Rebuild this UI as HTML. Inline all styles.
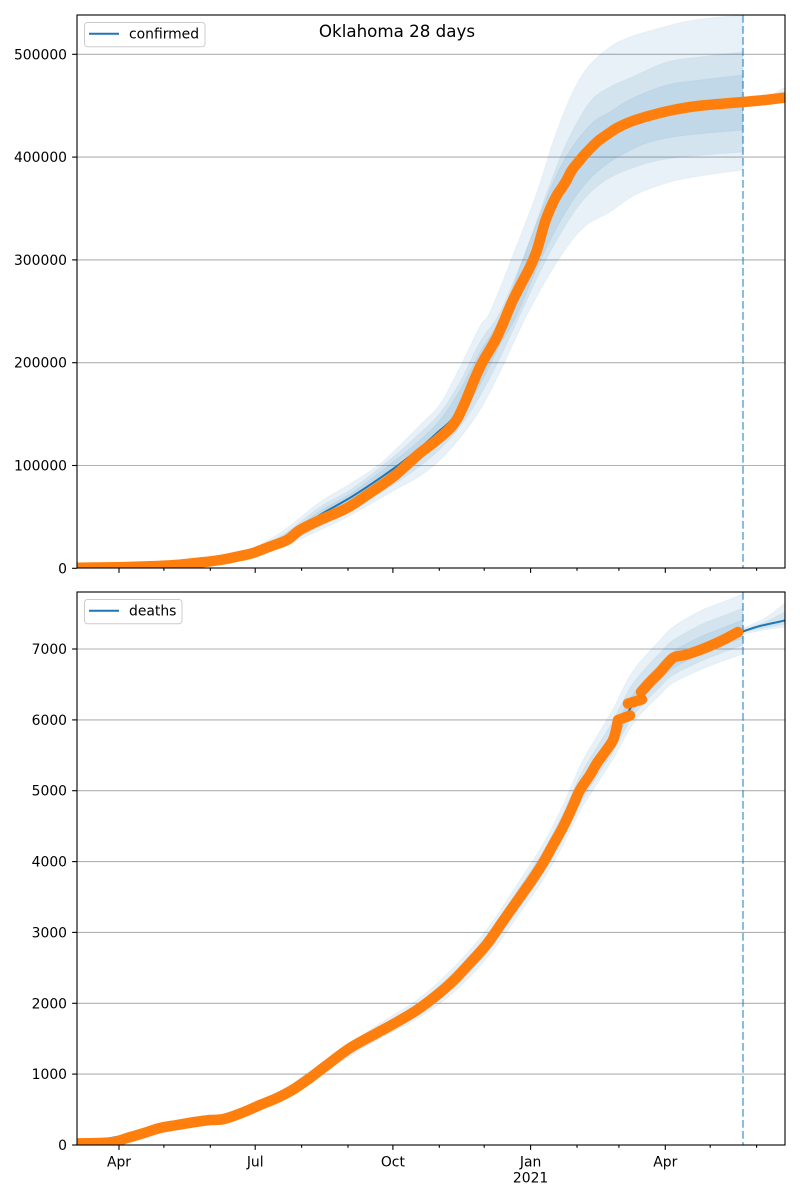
<!DOCTYPE html>
<html><head><meta charset="utf-8"><style>
html,body{margin:0;padding:0;background:#fff;}
svg{display:block;}
text{font-family:"DejaVu Sans","Liberation Sans",sans-serif;fill:#000;}
</style></head><body>
<svg id="fig" width="800" height="1200" viewBox="0 0 800 1200" xmlns="http://www.w3.org/2000/svg">
<rect width="800" height="1200" fill="#fff"/>
<defs>
<clipPath id="ct"><rect x="77" y="15" width="708" height="553"/></clipPath>
<clipPath id="cb"><rect x="77" y="592" width="708" height="553"/></clipPath>
</defs>

<!-- ============ TOP AXES ============ -->
<g stroke="#b0b0b0" stroke-width="1.1">
<line x1="77" y1="465.5" x2="785" y2="465.5"/>
<line x1="77" y1="362.7" x2="785" y2="362.7"/>
<line x1="77" y1="259.9" x2="785" y2="259.9"/>
<line x1="77" y1="157.1" x2="785" y2="157.1"/>
<line x1="77" y1="54.3" x2="785" y2="54.3"/>
</g>
<g clip-path="url(#ct)">
<g fill="#1f77b4" fill-opacity="0.1" stroke="#1f77b4" stroke-opacity="0.05" stroke-width="1">
<polygon class="sm" points="77,567.8 150,566.5 200,563 230,557 256,547 287,528 320,502 353,482 377,466 393,452 420,425 440,404 460,367 480,326 490,312 513,255 537,192 553,142 570,98 587,68 610,47 630,37 660,28 683,22 710,18 743,15 743,170 700,176 670,182 635,195 610,212 583,228 557,262 527,315 500,372 480,410 460,438 440,460 420,476 393,491 353,514 320,530 287,545 256,555.5 230,561 200,565 150,567.5 77,568"/>
<polygon class="sm" points="77,567.8 200,564 230,558.5 256,550 287,532 320,507 353,488 393,457 420,433 440,413 460,382 480,342 500,312 527,248 547,192 567,142 590,102 610,87 630,78 667,62 700,57 743,52 743,152 673,158 635,167 603,182 577,208 547,258 520,315 500,358 480,396 460,427 440,449 420,466 393,485 353,509 320,526 287,543 256,554 230,560 200,564.5 77,568"/>
<polygon class="sm" points="77,567.8 200,564 230,559 256,551 287,535 320,511 353,492 393,462 420,440 440,420 460,390 480,352 503,312 537,222 563,162 590,125 610,112 633,98 667,85 700,80 743,75 743,130 673,137 635,148 597,172 570,205 543,255 517,315 500,345 480,385 460,418 440,442 420,460 393,480 353,505 320,522 287,541 256,553 230,560 200,564.3 77,568"/>
<polygon class="sm" points="743,101 765,98 785,87 785,100 765,101.5 743,103"/>
</g>
<polyline class="sm" fill="none" stroke="#1f77b4" stroke-width="2" points="77,567.5 200,564 230,559.5 256,552 287,538 320,515 353,496 393,469 420,448 437,433 453,418 467,392 480,367 497,337 513,300 530,265 545,222 557,196 565,182 572,168 580,157 590,148 600,140 617,128 630,122 645,117 673,110 707,105 743,102 765,100 785,97"/>
<line x1="743" y1="15" x2="743" y2="568" stroke="#1f77b4" stroke-opacity="0.5" stroke-width="2.1" stroke-dasharray="7.7 3.3"/>
<polyline class="sm" fill="none" stroke="#ff7f0e" stroke-width="10.5" stroke-linejoin="round" stroke-linecap="round" points="70,567.9 119,567.2 150,566.3 175,565 200,562.5 220,560 240,556 253,553 270,546.5 287,540 300,530 320,520 347,508 370,493 393,477 410,462 420,453 437,440 453,425 463,407 480,367 497,337 513,300 530,267 537,250 545,222 551,207 557,195 565,183 572,170 580,160 587,152 597,142 605,136 617,128 630,122 645,117 660,113 673,110 690,107 707,105 725,103.5 743,102 765,100 790,97"/>
</g>
<rect x="77" y="15" width="708" height="553" fill="none" stroke="#000" stroke-width="1.1"/>
<g stroke="#000" stroke-width="1.1">
<line x1="72.1" y1="568.3" x2="77" y2="568.3"/>
<line x1="72.1" y1="465.5" x2="77" y2="465.5"/>
<line x1="72.1" y1="362.7" x2="77" y2="362.7"/>
<line x1="72.1" y1="259.9" x2="77" y2="259.9"/>
<line x1="72.1" y1="157.1" x2="77" y2="157.1"/>
<line x1="72.1" y1="54.3" x2="77" y2="54.3"/>
<line x1="119" y1="568" x2="119" y2="572.9"/>
<line x1="255.2" y1="568" x2="255.2" y2="572.9"/>
<line x1="392.9" y1="568" x2="392.9" y2="572.9"/>
<line x1="530.6" y1="568" x2="530.6" y2="572.9"/>
<line x1="665.3" y1="568" x2="665.3" y2="572.9"/>
<line x1="163.9" y1="568" x2="163.9" y2="570.8"/>
<line x1="210.3" y1="568" x2="210.3" y2="570.8"/>
<line x1="301.6" y1="568" x2="301.6" y2="570.8"/>
<line x1="348" y1="568" x2="348" y2="570.8"/>
<line x1="439.3" y1="568" x2="439.3" y2="570.8"/>
<line x1="484.2" y1="568" x2="484.2" y2="570.8"/>
<line x1="577" y1="568" x2="577" y2="570.8"/>
<line x1="618.9" y1="568" x2="618.9" y2="570.8"/>
<line x1="710.2" y1="568" x2="710.2" y2="570.8"/>
<line x1="756.6" y1="568" x2="756.6" y2="570.8"/>
</g>
<g font-size="13.9" text-anchor="end">
<text x="67" y="573.3">0</text>
<text x="67" y="470.5">100000</text>
<text x="67" y="367.7">200000</text>
<text x="67" y="264.9">300000</text>
<text x="67" y="162.1">400000</text>
<text x="67" y="59.3">500000</text>
</g>
<rect x="84.5" y="22.5" width="120.5" height="24.3" rx="3" fill="#fff" fill-opacity="0.8" stroke="#cccccc" stroke-width="1"/>
<line x1="89" y1="33.8" x2="119" y2="33.8" stroke="#1f77b4" stroke-width="2"/>
<text x="129" y="38.6" font-size="13.9">confirmed</text>
<text x="397" y="37" font-size="16.7" text-anchor="middle">Oklahoma 28 days</text>

<!-- ============ BOTTOM AXES ============ -->
<g stroke="#b0b0b0" stroke-width="1.1">
<line x1="77" y1="1074.1" x2="785" y2="1074.1"/>
<line x1="77" y1="1003.3" x2="785" y2="1003.3"/>
<line x1="77" y1="932.4" x2="785" y2="932.4"/>
<line x1="77" y1="861.6" x2="785" y2="861.6"/>
<line x1="77" y1="790.7" x2="785" y2="790.7"/>
<line x1="77" y1="719.9" x2="785" y2="719.9"/>
<line x1="77" y1="649" x2="785" y2="649"/>
</g>
<g clip-path="url(#cb)">
<g fill="#1f77b4" fill-opacity="0.1" stroke="#1f77b4" stroke-opacity="0.05" stroke-width="1">
<polygon class="sm" points="77,1144 177,1123.5 260,1102 327,1059 377,1025 417,1000 453,968 487,929 520,880 543,844 563,805 580,766 597,736 613,709 628,679 640,662 660,640 673,627 700,611 720,603 743,594 743,654 720,662 700,670 673,683 660,695 640,715 628,732 613,759 597,784 580,811 563,845 543,880 520,913 487,958 453,993 417,1019 377,1040 327,1070 260,1108 177,1126.5 77,1145"/>
<polygon class="sm" points="77,1144.2 177,1124.1 260,1103.1 327,1061.3 377,1028 417,1003.8 453,973 487,934.7 520,886.5 543,851.2 563,813.4 580,775.9 597,747 613,720.8 628,691.5 640,674.5 660,652.9 673,640.3 700,625.1 720,617.1 743,608.1 743,645.3 720,653.6 700,661.6 673,675 660,687 640,707.4 628,724.4 613,751.8 597,776.8 580,803.8 563,838.2 543,873.5 520,906.9 487,952.7 453,988.4 417,1015.6 377,1037.3 327,1068.1 260,1106.9 177,1125.9 77,1144.8"/>
<polygon class="sm" points="77,1144.3 177,1124.5 260,1104.1 327,1063.2 377,1030.6 417,1007 453,977.1 487,939.5 520,891.9 543,857.3 563,820.4 580,784.2 597,756.3 613,730.7 628,702.1 640,685.1 660,663.8 673,651.5 700,636.9 720,628.9 743,619.9 743,637.9 720,646.6 700,654.6 673,668.3 660,680.3 640,701 628,718 613,745.7 597,770.7 580,797.7 563,832.4 543,868.1 520,901.8 487,948.2 453,984.6 417,1012.7 377,1035.1 327,1066.5 260,1105.9 177,1125.5 77,1144.6"/>
<polygon class="sm" points="743,628 765,618 785,603 785,627 765,630 743,634"/>
<polygon class="sm" points="743,630 765,622 785,612 785,624 765,628 743,632"/>
</g>
<polyline class="sm" fill="none" stroke="#1f77b4" stroke-width="2" points="77,1144.5 177,1125 260,1105 327,1065 377,1033 417,1010 453,981 487,944 520,897 543,863 563,827 580,792 597,765 613,740 620,726 628,712 640,695 660,674 673,662 700,648 720,640 743,631.5 760,626 785,620.5"/>
<line x1="743" y1="592" x2="743" y2="1145" stroke="#1f77b4" stroke-opacity="0.5" stroke-width="2.1" stroke-dasharray="7.7 3.3"/>
<g fill="none" stroke="#ff7f0e" stroke-width="10.5" stroke-linejoin="round" stroke-linecap="round">
<polyline class="sm" points="70,1143.5 110,1142.5 127,1138 144,1133 160,1128 177,1125 195,1122 210,1120 224,1119 244,1112 260,1105 277,1098 294,1089 310,1078 327,1065 350,1048 377,1033 397,1022 417,1010 437,995 453,981 470,963 487,944 503,921 520,897 532,880 543,863 553,845 563,827 572,808 580,790 590,775 597,763 605,752 613,740 617,726"/>
<polyline points="617,726 618,720 630,715.5"/>
<polyline points="628,703.5 642,699.5"/>
<polyline class="sm" points="641,692 650,682 660,672 673,658 685,655 700,650 712,645 725,639 738,632"/>
</g>
</g>
<rect x="77" y="592" width="708" height="553" fill="none" stroke="#000" stroke-width="1.1"/>
<g stroke="#000" stroke-width="1.1">
<line x1="72.1" y1="1145" x2="77" y2="1145"/>
<line x1="72.1" y1="1074.1" x2="77" y2="1074.1"/>
<line x1="72.1" y1="1003.3" x2="77" y2="1003.3"/>
<line x1="72.1" y1="932.4" x2="77" y2="932.4"/>
<line x1="72.1" y1="861.6" x2="77" y2="861.6"/>
<line x1="72.1" y1="790.7" x2="77" y2="790.7"/>
<line x1="72.1" y1="719.9" x2="77" y2="719.9"/>
<line x1="72.1" y1="649" x2="77" y2="649"/>
<line x1="119" y1="1145" x2="119" y2="1149.9"/>
<line x1="255.2" y1="1145" x2="255.2" y2="1149.9"/>
<line x1="392.9" y1="1145" x2="392.9" y2="1149.9"/>
<line x1="530.6" y1="1145" x2="530.6" y2="1149.9"/>
<line x1="665.3" y1="1145" x2="665.3" y2="1149.9"/>
<line x1="163.9" y1="1145" x2="163.9" y2="1147.8"/>
<line x1="210.3" y1="1145" x2="210.3" y2="1147.8"/>
<line x1="301.6" y1="1145" x2="301.6" y2="1147.8"/>
<line x1="348" y1="1145" x2="348" y2="1147.8"/>
<line x1="439.3" y1="1145" x2="439.3" y2="1147.8"/>
<line x1="484.2" y1="1145" x2="484.2" y2="1147.8"/>
<line x1="577" y1="1145" x2="577" y2="1147.8"/>
<line x1="618.9" y1="1145" x2="618.9" y2="1147.8"/>
<line x1="710.2" y1="1145" x2="710.2" y2="1147.8"/>
<line x1="756.6" y1="1145" x2="756.6" y2="1147.8"/>
</g>
<g font-size="13.9" text-anchor="end">
<text x="67" y="1150">0</text>
<text x="67" y="1079.1">1000</text>
<text x="67" y="1008.3">2000</text>
<text x="67" y="937.4">3000</text>
<text x="67" y="866.6">4000</text>
<text x="67" y="795.7">5000</text>
<text x="67" y="724.9">6000</text>
<text x="67" y="654">7000</text>
</g>
<g font-size="13.9" text-anchor="middle">
<text x="119" y="1166.5">Apr</text>
<text x="255.2" y="1166.5">Jul</text>
<text x="392.9" y="1166.5">Oct</text>
<text x="530.6" y="1166.5">Jan</text>
<text x="530.6" y="1182.5">2021</text>
<text x="665.3" y="1166.5">Apr</text>
</g>
<rect x="84.5" y="599.5" width="97.5" height="24.3" rx="3" fill="#fff" fill-opacity="0.8" stroke="#cccccc" stroke-width="1"/>
<line x1="89" y1="610.8" x2="119" y2="610.8" stroke="#1f77b4" stroke-width="2"/>
<text x="129" y="615.6" font-size="13.9">deaths</text>
</svg>
<script>
(function(){
  function cr(pts){
    var d='';
    for(var i=0;i<pts.length-1;i++){
      var p0=pts[i-1]||pts[i], p1=pts[i], p2=pts[i+1], p3=pts[i+2]||pts[i+1];
      var c1x=p1[0]+(p2[0]-p0[0])/6, c1y=p1[1]+(p2[1]-p0[1])/6;
      var c2x=p2[0]-(p3[0]-p1[0])/6, c2y=p2[1]-(p3[1]-p1[1])/6;
      d+=' C'+c1x.toFixed(2)+','+c1y.toFixed(2)+' '+c2x.toFixed(2)+','+c2y.toFixed(2)+' '+p2[0]+','+p2[1];
    }
    return d;
  }
  var els=document.querySelectorAll('.sm');
  for(var e=0;e<els.length;e++){
    var el=els[e];
    var pts=el.getAttribute('points').trim().split(/\s+/).map(function(s){return s.split(',').map(Number);});
    var d;
    if(el.tagName.toLowerCase()==='polygon'){
      var k=0; while(k<pts.length-1 && pts[k+1][0]>pts[k][0]) k++;
      var A=pts.slice(0,k+1), B=pts.slice(k+1);
      d='M'+A[0][0]+','+A[0][1]+cr(A)+' L'+B[0][0]+','+B[0][1]+cr(B)+' Z';
    } else {
      d='M'+pts[0][0]+','+pts[0][1]+cr(pts);
    }
    var p=document.createElementNS('http://www.w3.org/2000/svg','path');
    for(var a=0;a<el.attributes.length;a++){
      var at=el.attributes[a];
      if(at.name!=='points'&&at.name!=='class') p.setAttribute(at.name,at.value);
    }
    p.setAttribute('d',d);
    el.parentNode.replaceChild(p,el);
  }
})();
</script>
</body></html>
